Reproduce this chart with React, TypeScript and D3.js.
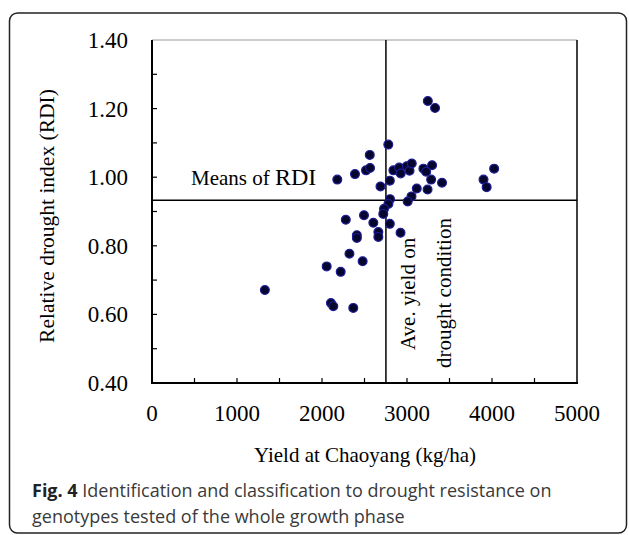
import React from 'react';
import * as d3 from 'd3';

// yield (kg/ha) and RDI per genotype
const yieldValues = [
  3245, 3330, 2780, 2562, 2518, 2565, 2388, 2180, 2688, 2798,
  2840, 2908, 2926, 2997, 3030, 3056, 3193, 3225, 3295, 3284,
  3412, 3242, 3115, 3900, 3937, 4025, 3053, 3008, 2800, 2781,
  2730, 2721, 2494, 2280, 2604, 2798, 2924, 2663, 2663, 2410,
  2410, 2323, 2478, 2055, 2220, 1328, 2105, 2133, 2368,
];
const rdiValues = [
  1.222, 1.202, 1.095, 1.065, 1.020, 1.027, 1.009, 0.993, 0.973, 0.990,
  1.020, 1.028, 1.011, 1.032, 1.019, 1.040, 1.025, 1.016, 1.035, 0.993,
  0.984, 0.964, 0.967, 0.993, 0.971, 1.025, 0.944, 0.929, 0.936, 0.922,
  0.908, 0.893, 0.889, 0.876, 0.867, 0.864, 0.838, 0.840, 0.826, 0.831,
  0.823, 0.777, 0.755, 0.740, 0.724, 0.671, 0.633, 0.624, 0.619,
];
const meanYield = 2752;
const meanRDI = 0.933;

const xDomain = [0, 5000];
const yDomain = [0.4, 1.4];
const xLabelTicks = [0, 1000, 2000, 3000, 4000, 5000];
const yLabelTicks = [0.4, 0.6, 0.8, 1.0, 1.2, 1.4];

const W = 629;
const H = 535;
const plot = { left: 152, right: 577, top: 40, bottom: 383 };
const serif = '"Liberation Serif", "Times New Roman", serif';
const sans = '"Open Sans", "Noto Sans", sans-serif';

const App: React.FC = () => {
  const x = d3.scaleLinear().domain(xDomain).range([plot.left, plot.right]);
  const y = d3.scaleLinear().domain(yDomain).range([plot.bottom, plot.top]);
  const xMinor = d3.range(xDomain[0], xDomain[1] + 1, 500);
  const yMinor = d3.range(0, 11).map(i => yDomain[0] + i * 0.1);
  const fmt = d3.format('.2f');

  return (
    <svg width={W} height={H} style={{ position: 'absolute', left: 0, top: 0, background: '#fff' }}>
      {/* figure frame */}
      <rect x={9.5} y={13} width={617} height={520} rx={8} fill="none" stroke="#222" strokeWidth={1.5} />

      {/* plot box */}
      <line x1={plot.left} x2={plot.right} y1={plot.top} y2={plot.top} stroke="#999" strokeWidth={1} />
      <line x1={plot.right} x2={plot.right} y1={plot.top} y2={plot.bottom} stroke="#000" strokeWidth={1.5} />
      <line x1={plot.left} x2={plot.left} y1={plot.top} y2={plot.bottom + 1} stroke="#000" strokeWidth={2} />
      <line x1={plot.left - 1} x2={plot.right + 1} y1={plot.bottom} y2={plot.bottom} stroke="#000" strokeWidth={2} />

      {/* inward ticks */}
      {xMinor.slice(1, -1).map(v => (
        <line key={'xt' + v} x1={x(v)} x2={x(v)} y1={plot.bottom} y2={plot.bottom - 5} stroke="#000" strokeWidth={1.2} />
      ))}
      {yMinor.slice(1, -1).map(v => (
        <line key={'yt' + v} x1={plot.left} x2={plot.left + 5} y1={y(v)} y2={y(v)} stroke="#000" strokeWidth={1.2} />
      ))}

      {/* tick labels */}
      {xLabelTicks.map(v => (
        <text key={'xl' + v} x={x(v)} y={421} textAnchor="middle" fontFamily={serif} fontSize={23} fill="#000">
          {v}
        </text>
      ))}
      {yLabelTicks.map(v => (
        <text key={'yl' + v} x={128} y={y(v) + 8} textAnchor="end" fontFamily={serif} fontSize={23} fill="#000">
          {fmt(v)}
        </text>
      ))}

      {/* axis titles */}
      <text x={365} y={462} textAnchor="middle" fontFamily={serif} fontSize={21} fill="#000">
        Yield at Chaoyang (kg/ha)
      </text>
      <text transform={`translate(54,${216}) rotate(-90)`} textAnchor="middle" fontFamily={serif} fontSize={21.5} fill="#000">
        Relative drought index (RDI)
      </text>

      {/* mean lines */}
      <line x1={x(meanYield)} x2={x(meanYield)} y1={plot.top} y2={plot.bottom} stroke="#000" strokeWidth={1.5} />
      <line x1={plot.left} x2={plot.right} y1={y(meanRDI)} y2={y(meanRDI)} stroke="#000" strokeWidth={1.5} />

      <text x={191} y={185} fontFamily={serif} fontSize={21} fill="#000">
        Means of <tspan fontSize={24}>RDI</tspan>
      </text>
      <text transform={`translate(415,350) rotate(-90)`} fontFamily={serif} fontSize={21} fill="#000">
        Ave. yield on
      </text>
      <text transform={`translate(451,368) rotate(-90)`} fontFamily={serif} fontSize={21} fill="#000">
        drought condition
      </text>

      {/* points */}
      {yieldValues.map((v, i) => (
        <circle key={'p' + i} cx={x(v)} cy={y(rdiValues[i])} r={4.4} fill="#05052e" stroke="#1c1c96" strokeWidth={1.2} />
      ))}

      {/* caption */}
      <text x={32} y={497} fontFamily={sans} fontSize={18} fill="#3a3a3a">
        <tspan fontWeight="bold" fill="#222">Fig. 4</tspan> Identification and classification to drought resistance on
      </text>
      <text x={32} y={523} fontFamily={sans} fontSize={18} fill="#3a3a3a">
        genotypes tested of the whole growth phase
      </text>
    </svg>
  );
};

export default App;
